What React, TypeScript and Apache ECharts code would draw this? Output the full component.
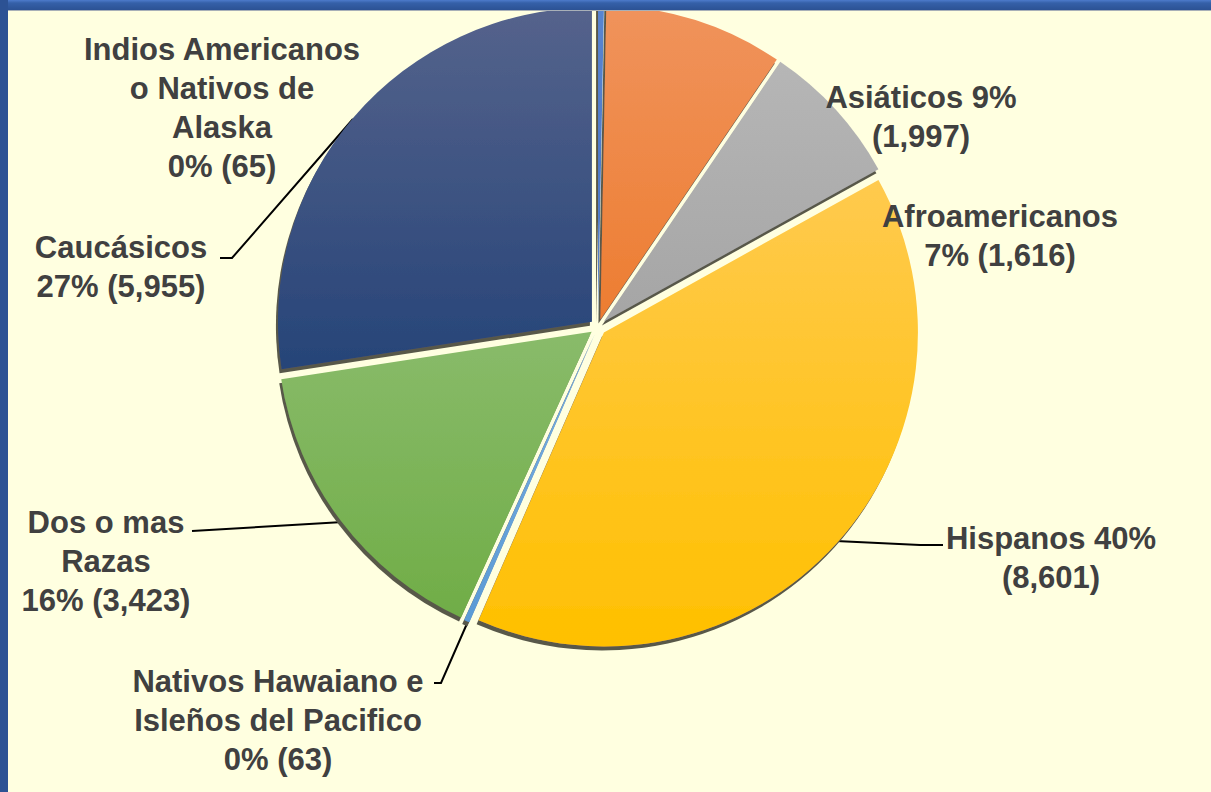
import React, { useEffect, useRef } from 'react';
import * as echarts from 'echarts';

const categories = [
  'Indios Americanos o Nativos de Alaska',
  'Asiáticos',
  'Afroamericanos',
  'Hispanos',
  'Nativos Hawaiano e Isleños del Pacifico',
  'Dos o mas Razas',
  'Caucásicos',
];
const values = [65, 1997, 1616, 8601, 63, 3423, 5955];
const labelTemplates = [
  'Indios Americanos\no Nativos de\nAlaska\n{p}% ({v})',
  'Asiáticos {p}%\n({v})',
  'Afroamericanos\n{p}% ({v})',
  'Hispanos {p}%\n({v})',
  'Nativos Hawaiano e\nIsleños del Pacifico\n{p}% ({v})',
  'Dos o mas\nRazas\n{p}% ({v})',
  'Caucásicos\n{p}% ({v})',
];
const baseColors = ['#4472C4', '#ED7D31', '#A5A5A5', '#FFC000', '#5B9BD5', '#70AD47', '#264478'];
const topColors = ['#5A85D0', '#F0935C', '#B6B6B6', '#FFCA4E', '#79AEDF', '#89BB6A', '#55638C'];

// label layout (positions only)
const labelCenters: number[][] = [
  [222, 108],
  [921, 117],
  [1000, 236],
  [1051, 558],
  [278, 720],
  [106, 561],
  [121, 267],
];
const leaderPoints: (number[][] | null)[] = [
  null,
  null,
  null,
  [[836, 541], [920, 545], [943, 545]],
  [[469, 619], [441, 683], [434, 683]],
  [[343, 522], [192, 531]],
  [[353, 119], [232, 258], [220, 258]],
];

function fmtNum(v: number) {
  return v.toString().replace(/\B(?=(\d{3})+(?!\d))/g, ',');
}

const CENTER = [598, 327];
const RADIUS = 314;

export default function App() {
  const ref = useRef<HTMLDivElement>(null);
  useEffect(() => {
    if (!ref.current) return;
    const chart = echarts.init(ref.current, undefined, { renderer: 'svg' });
    const sliceData = values.map((v, i) => ({
      value: v,
      name: categories[i],
      selected: true,
      itemStyle: {
        color: new echarts.graphic.LinearGradient(0, 0, 0, 1, [
          { offset: 0, color: topColors[i] },
          { offset: 1, color: baseColors[i] },
        ]),
      },
    }));
    const labelData = values.map((v, i) => ({
      value: v,
      name: categories[i],
      labelLine: { show: leaderPoints[i] != null },
    }));
    chart.setOption({
      animation: false,
      backgroundColor: '#FFFFE0',
      graphic: [
        {
          type: 'rect',
          z: 100,
          shape: { x: 0, y: 0, width: 1211, height: 10 },
          style: {
            fill: new echarts.graphic.LinearGradient(0, 0, 0, 1, [
              { offset: 0, color: '#4D7BCB' },
              { offset: 0.3, color: '#3560A8' },
              { offset: 1, color: '#2C5294' },
            ]),
          },
        },
        {
          type: 'rect',
          z: 100,
          shape: { x: 0, y: 10, width: 1211, height: 1 },
          style: { fill: '#A8B0B8' },
        },
        {
          type: 'rect',
          z: 101,
          shape: { x: 0, y: 0, width: 8, height: 792 },
          style: { fill: '#2C5294' },
        },
      ],
      series: [
        {
          type: 'pie',
          center: CENTER,
          radius: RADIUS,
          startAngle: 90,
          clockwise: true,
          selectedMode: 'multiple',
          selectedOffset: 8,
          emphasis: { disabled: true },
          silent: true,
          itemStyle: {
            borderWidth: 0,
            shadowColor: 'rgba(88,88,74,1)',
            shadowBlur: 0,
            shadowOffsetX: -2,
            shadowOffsetY: 4,
          },
          select: { itemStyle: { borderWidth: 0 } },
          label: { show: false },
          labelLine: { show: false },
          data: sliceData,
        },
        {
          type: 'pie',
          center: CENTER,
          radius: RADIUS,
          startAngle: 90,
          clockwise: true,
          selectedMode: false,
          avoidLabelOverlap: false,
          emphasis: { disabled: true },
          silent: true,
          itemStyle: { color: 'rgba(0,0,0,0)', borderWidth: 0 },
          label: {
            show: true,
            position: 'outside',
            color: '#404040',
            fontFamily: 'Liberation Sans',
            fontWeight: 'bold',
            fontSize: 31,
            lineHeight: 39,
            align: 'center',
            formatter: (p: any) =>
              labelTemplates[p.dataIndex]
                .replace('{p}', String(Math.round(p.percent)))
                .replace('{v}', fmtNum(p.value)),
          },
          labelLine: {
            show: true,
            length: 10,
            length2: 10,
            lineStyle: { color: '#000000', width: 2 },
          },
          labelLayout: (p: any) => {
            const c = labelCenters[p.dataIndex];
            const out: any = { x: c[0], y: c[1], align: 'center', verticalAlign: 'middle' };
            const pts = leaderPoints[p.dataIndex];
            if (pts) out.labelLinePoints = pts;
            return out;
          },
          data: labelData,
        },
      ],
    });
    return () => chart.dispose();
  }, []);
  return (
    <div
      ref={ref}
      style={{ position: 'fixed', left: 0, top: 0, width: 1211, height: 792 }}
    />
  );
}
